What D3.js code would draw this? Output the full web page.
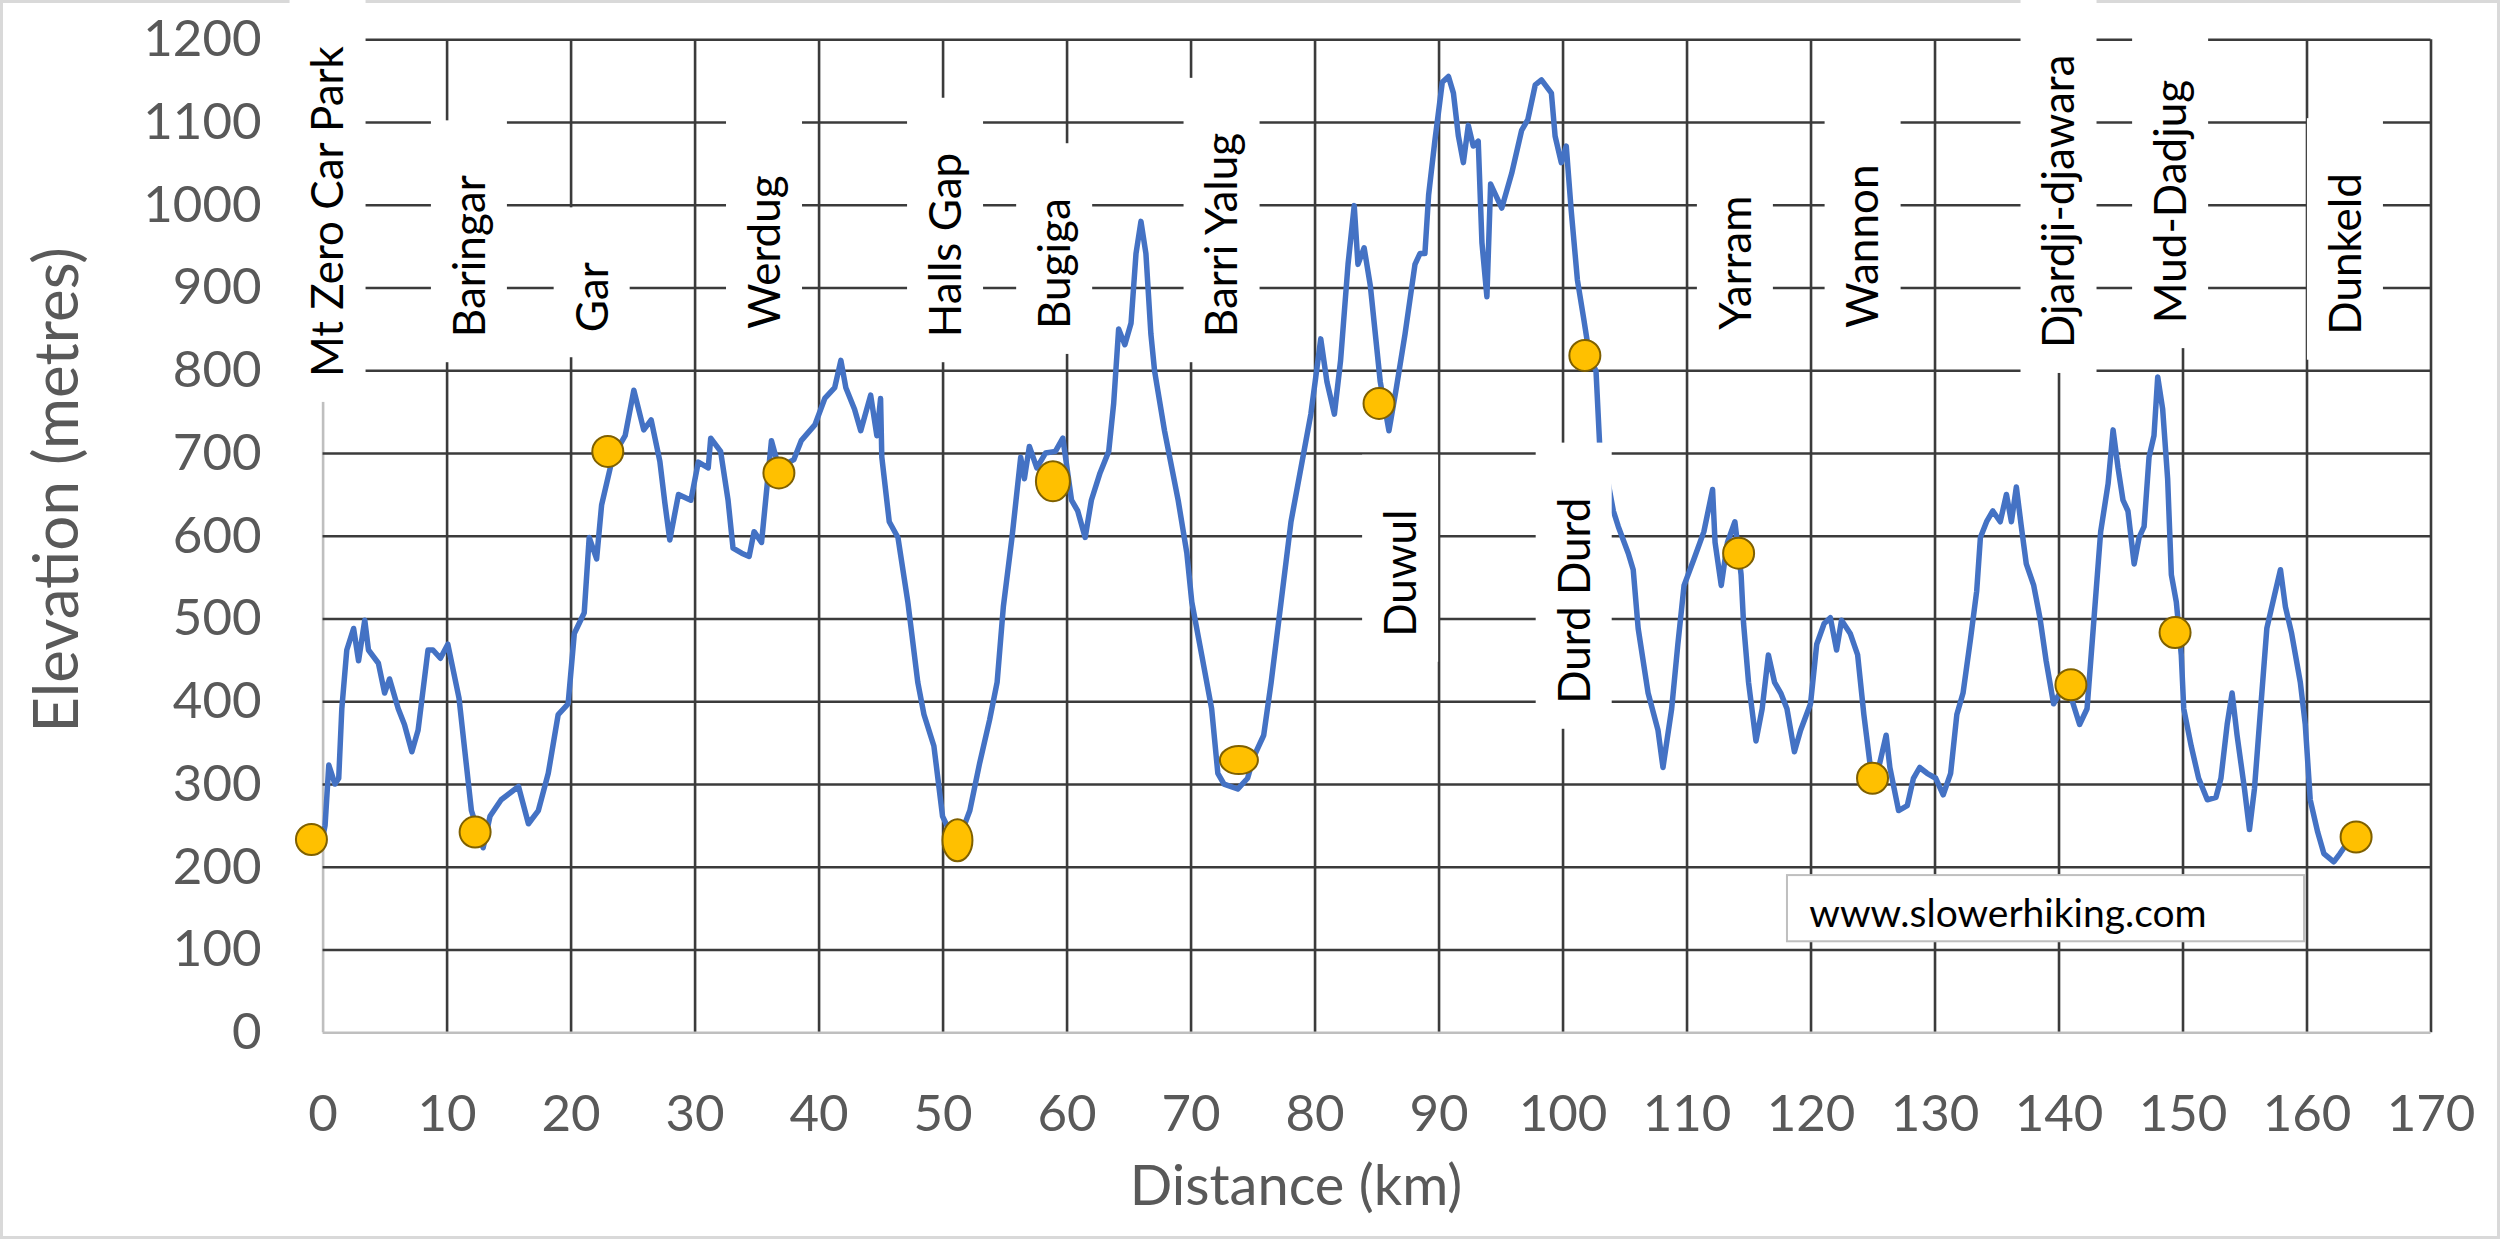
<!DOCTYPE html>
<html>
<head>
<meta charset="utf-8">
<script src="https://cdn.jsdelivr.net/npm/d3@7"></script>
<style>
  body { margin: 0; background: #fff; }
  text { font-family: Lato, "Open Sans", sans-serif; }
</style>
</head>
<body>
<div id="chart"></div>
<script>
// ---- data ----
const distanceKm = [
  0.0, 0.2, 0.5, 1.0, 1.3, 1.55, 1.95, 2.5, 2.9, 3.4, 3.7, 4.5, 5.0, 5.4, 6.1, 6.6, 7.2, 7.7, 8.5, 8.9,
  9.5, 10.1, 11.0, 12.0, 12.95, 13.5, 14.4, 15.8, 16.6, 17.4, 18.2, 19.0, 19.8, 20.3, 21.1, 21.5, 22.1, 22.5, 23.4, 24.4,
  25.1, 25.9, 26.5, 27.2, 27.6, 28.0, 28.7, 29.7, 30.3, 31.1, 31.3, 32.1, 32.7, 33.1, 33.8, 34.4, 34.8, 35.4, 36.2, 36.8,
  38.0, 38.6, 39.7, 40.5, 41.3, 41.8, 42.2, 42.9, 43.4, 44.2, 44.7, 45.0, 45.1, 45.7, 46.4, 47.2, 48.0, 48.5, 49.3, 50.0,
  50.6, 50.9, 51.4, 52.2, 53.0, 53.8, 54.4, 54.9, 55.6, 56.3, 56.6, 57.0, 57.6, 58.3, 59.1, 59.7, 60.4, 60.9, 61.5, 62.0,
  62.7, 63.4, 63.8, 64.2, 64.7, 65.2, 65.6, 66.0, 66.4, 66.8, 67.1, 67.9, 69.0, 69.7, 70.1, 70.9, 71.7, 72.2, 72.7, 73.8,
  74.6, 75.1, 75.9, 76.5, 77.3, 78.1, 78.9, 79.7, 80.1, 80.5, 81.0, 81.6, 82.1, 82.7, 83.2, 83.5, 84.0, 84.5, 85.3, 86.0,
  86.6, 87.3, 88.1, 88.5, 88.9, 89.2, 89.7, 90.3, 90.8, 91.2, 91.6, 92.0, 92.4, 92.8, 93.2, 93.5, 93.9, 94.2, 94.6, 95.1,
  95.9, 96.7, 97.2, 97.8, 98.3, 99.1, 99.4, 99.9, 100.3, 100.7, 101.2, 101.7, 102.2, 102.7, 103.0, 103.6, 104.1, 104.5, 105.3, 105.7,
  106.1, 106.9, 107.7, 108.1, 108.8, 109.3, 109.8, 110.6, 111.4, 112.1, 112.3, 112.8, 113.3, 113.9, 114.4, 114.6, 115.0, 115.6, 116.1, 116.6,
  117.1, 117.6, 118.1, 118.7, 119.2, 120.0, 120.5, 121.1, 121.6, 122.1, 122.5, 123.2, 123.8, 124.3, 125.0, 125.5, 126.1, 126.4, 127.1, 127.8,
  128.3, 128.8, 129.4, 130.1, 130.7, 131.3, 131.8, 132.3, 132.9, 133.4, 133.7, 134.2, 134.7, 135.3, 135.8, 136.2, 136.6, 137.0, 137.4, 138.0,
  138.5, 139.0, 139.6, 140.1, 140.7, 141.7, 142.3, 142.8, 143.4, 144.0, 144.4, 144.8, 145.2, 145.6, 146.1, 146.5, 146.9, 147.3, 147.7, 148.0,
  148.4, 148.8, 149.1, 149.5, 149.9, 150.1, 150.7, 151.3, 152.0, 152.7, 153.1, 153.6, 154.0, 154.4, 155.0, 155.4, 155.8, 156.3, 156.8, 157.4,
  157.9, 158.3, 158.8, 159.5, 159.9, 160.3, 160.9, 161.4, 162.2, 162.7, 163.3
];
const elevationM = [
  235, 250, 323, 300, 307, 391, 462, 488, 449, 498, 462, 446, 410, 427, 391, 372, 339, 365, 462, 462,
  452, 469, 404, 268, 223, 261, 281, 297, 252, 268, 313, 384, 397, 482, 507, 598, 572, 637, 695, 721,
  776, 728, 740, 690, 640, 595, 650, 643, 689, 682, 718, 702, 643, 585, 579, 575, 605, 592, 715, 682,
  692, 715, 734, 766, 779, 812, 779, 753, 727, 770, 721, 766, 695, 617, 598, 520, 423, 384, 346, 261,
  242, 225, 236, 268, 326, 378, 423, 514, 598, 695, 669, 708, 682, 700, 702, 718, 643, 630, 598, 643,
  676, 702, 760, 850, 831, 857, 941, 980, 941, 844, 799, 727, 643, 579, 520, 456, 391, 313, 300, 294,
  307, 333, 359, 423, 520, 617, 682, 747, 792, 838, 786, 747, 812, 928, 999, 928, 948, 902, 786, 727,
  779, 844, 928, 941, 941, 1012, 1077, 1148, 1155, 1135, 1083, 1051, 1096, 1071, 1077, 954, 889, 1025, 1012, 996,
  1038, 1090, 1103, 1145, 1151, 1135, 1083, 1051, 1071, 993, 909, 863, 815, 799, 708, 670, 630, 611, 579, 559,
  488, 410, 365, 320, 391, 469, 540, 572, 605, 656, 592, 540, 592, 617, 553, 494, 423, 352, 391, 456,
  423, 410, 391, 339, 365, 397, 469, 494, 501, 462, 498, 482, 456, 384, 300, 320, 359, 320, 268, 274,
  307, 320, 313, 307, 287, 313, 384, 410, 475, 533, 598, 617, 630, 617, 650, 617, 659, 611, 566, 540,
  501, 449, 397, 410, 420, 372, 391, 488, 605, 663, 728, 682, 643, 630, 566, 598, 611, 695, 721, 792,
  753, 669, 553, 520, 456, 391, 346, 307, 281, 284, 307, 372, 410, 359, 294, 245, 294, 391, 488, 527,
  559, 514, 482, 423, 372, 281, 242, 216, 206, 216, 229
];

// stops (campsites / towns) shown as yellow markers
const stopNames = ["Mt Zero Car Park", "Baringar", "Gar", "Werdug", "Halls Gap", "Bugiga", "Barri Yalug",
  "Duwul", "Durd Durd", "Yarram", "Wannon", "Djardji-djawara", "Mud-Dadjug", "Dunkeld"];
const stopKm   = [-0.9, 12.3, 23.0, 36.8, 51.2, 58.9, 73.9, 85.2, 101.8, 114.2, 125.0, 141.0, 149.4, 164.0];
const stopElev = [233, 242, 702, 676, 232, 666, 329, 760, 818, 579, 307, 420, 483, 236];

// where each name label sits (km of label, elevation where the text starts)
const labelKm   = [0.4, 11.8, 21.7, 35.6, 50.2, 59.0, 72.5, 86.9, 100.9, 113.9, 124.2, 140.0, 149.0, 163.1];
const labelElev = [792, 840, 846, 850, 840, 850, 840, 478, 397, 849, 851, 827, 857, 843];

const xTicks = d3.range(0, 171, 10);
const yTicks = d3.range(0, 1201, 100);

// ---- layout ----
const W = 2500, H = 1240;
const plot = { left: 322.6, right: 2430.5, top: 39.3, bottom: 1032.3 };

const svg = d3.select("#chart").append("svg")
  .attr("width", W)
  .attr("height", H);

// outer chart border
svg.append("rect")
  .attr("x", 1.5).attr("y", 1.5)
  .attr("width", W - 3).attr("height", H - 4)
  .attr("fill", "#fff")
  .attr("stroke", "#d9d9d9")
  .attr("stroke-width", 3);

const xScale = d3.scaleLinear().domain([0, 170]).range([plot.left, plot.right]);
const yScale = d3.scaleLinear().domain([0, 1200]).range([plot.bottom, plot.top]);

// gridlines
const gridColor = "#3b3b3b";
const axisColor = "#bfbfbf";

svg.append("g")
  .attr("transform", `translate(0, ${plot.bottom})`)
  .call(d3.axisBottom(xScale).tickValues(xTicks).tickSize(-(plot.bottom - plot.top)).tickFormat(""))
  .call(g => g.select(".domain").remove())
  .call(g => g.selectAll("line")
    .attr("stroke", d => d === 0 ? axisColor : gridColor)
    .attr("stroke-width", 2.6));

svg.append("g")
  .attr("transform", `translate(${plot.left}, 0)`)
  .call(d3.axisLeft(yScale).tickValues(yTicks).tickSize(-(plot.right - plot.left)).tickFormat(""))
  .call(g => g.select(".domain").remove())
  .call(g => g.selectAll("line")
    .attr("stroke", d => d === 0 ? axisColor : gridColor)
    .attr("stroke-width", 2.6));

// tick labels
svg.append("g")
  .attr("transform", `translate(0, ${plot.bottom})`)
  .call(d3.axisBottom(xScale).tickValues(xTicks).tickSize(0).tickPadding(62).tickFormat(d3.format("d")))
  .call(g => g.select(".domain").remove())
  .call(g => g.selectAll("text")
    .attr("fill", "#595959")
    .style("font-size", "51px"));

svg.append("g")
  .attr("transform", `translate(${plot.left}, 0)`)
  .call(d3.axisLeft(yScale).tickValues(yTicks).tickSize(0).tickPadding(61).tickFormat(d3.format("d")))
  .call(g => g.select(".domain").remove())
  .call(g => g.selectAll("text")
    .attr("fill", "#595959")
    .style("font-size", "51px"));

// axis titles
svg.append("text")
  .attr("x", 1296)
  .attr("y", 1205)
  .attr("text-anchor", "middle")
  .attr("fill", "#595959")
  .style("font-size", "56px")
  .text("Distance (km)");

svg.append("text")
  .attr("transform", `translate(78, 490) rotate(-90)`)
  .attr("text-anchor", "middle")
  .attr("fill", "#595959")
  .style("font-size", "62px")
  .text("Elevation (metres)");

// elevation profile
const profile = distanceKm.map((d, i) => [d, elevationM[i]]);
const line = d3.line()
  .x(d => xScale(d[0]))
  .y(d => yScale(d[1]));

svg.append("path")
  .datum(profile)
  .attr("fill", "none")
  .attr("stroke", "#4472c4")
  .attr("stroke-width", 5.5)
  .attr("stroke-linejoin", "round")
  .attr("d", line);

// markers - a few were drawn as stretched ellipses in the original
const markerShape = {
  "Halls Gap": [15, 21],
  "Bugiga": [17, 20],
  "Barri Yalug": [19, 14]
};
stopNames.forEach((name, i) => {
  const [rx, ry] = markerShape[name] || [15.5, 15.5];
  svg.append("ellipse")
    .attr("cx", xScale(stopKm[i]))
    .attr("cy", yScale(stopElev[i]))
    .attr("rx", rx)
    .attr("ry", ry)
    .attr("fill", "#ffc000")
    .attr("stroke", "#7f6000")
    .attr("stroke-width", 2);
});

// name labels in white boxes (vertical text)
const labelG = svg.append("g");
stopNames.forEach((name, i) => {
  const cx = xScale(labelKm[i]);
  const y0 = yScale(labelElev[i]);
  const box = labelG.append("rect").attr("fill", "#fff");
  const t = labelG.append("text")
    .attr("transform", `translate(${cx}, ${y0}) rotate(-90)`)
    .attr("dy", "0.36em")
    .attr("fill", "#000")
    .style("font-size", "44px")
    .text(name);
  const len = t.node().getComputedTextLength();
  box.attr("x", cx - 38)
    .attr("width", 76)
    .attr("y", y0 - len - 55)
    .attr("height", len + 80);
});

// watermark box
svg.append("rect")
  .attr("x", xScale(118.1))
  .attr("y", yScale(190))
  .attr("width", xScale(159.8) - xScale(118.1))
  .attr("height", yScale(110) - yScale(190))
  .attr("fill", "#fff")
  .attr("stroke", "#bfbfbf")
  .attr("stroke-width", 2);

svg.append("text")
  .attr("x", xScale(119.9))
  .attr("y", yScale(127))
  .attr("fill", "#000")
  .style("font-size", "39px")
  .text("www.slowerhiking.com");
</script>
</body>
</html>
